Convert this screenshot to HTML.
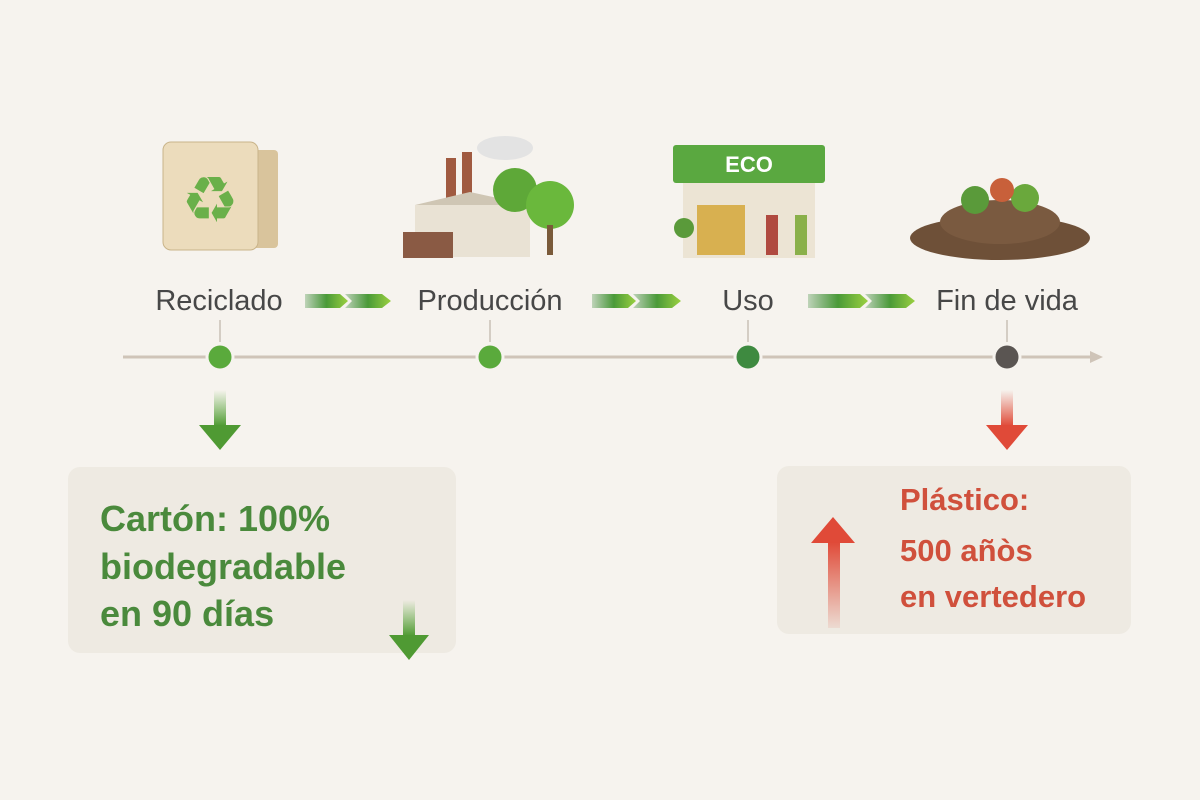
<!DOCTYPE html>
<html><head><meta charset="utf-8"><style>
html,body{margin:0;padding:0;background:#f6f3ee;}
svg{display:block}
text{font-family:"Liberation Sans",sans-serif}
</style></head><body>
<svg width="1200" height="800" viewBox="0 0 1200 800" xmlns="http://www.w3.org/2000/svg">
<defs>
<linearGradient id="gd" x1="0" y1="0" x2="0" y2="1"><stop offset="0" stop-color="#5aa83a" stop-opacity="0"/><stop offset="1" stop-color="#4f9a33"/></linearGradient>
<linearGradient id="rd" x1="0" y1="0" x2="0" y2="1"><stop offset="0" stop-color="#e0503c" stop-opacity="0"/><stop offset="1" stop-color="#e04a38"/></linearGradient>
<linearGradient id="ru" x1="0" y1="1" x2="0" y2="0"><stop offset="0" stop-color="#e0503c" stop-opacity="0.1"/><stop offset="1" stop-color="#e04a38"/></linearGradient>
<linearGradient id="ch" x1="0" y1="0" x2="1" y2="0"><stop offset="0" stop-color="#3e8a3a" stop-opacity="0.3"/><stop offset="0.5" stop-color="#4a9a38"/><stop offset="1" stop-color="#9ad040"/></linearGradient>
</defs>
<rect width="1200" height="800" fill="#f6f3ee"/>

<g>
<rect x="250" y="150" width="28" height="98" rx="4" fill="#d9c49c"/>
<rect x="163" y="142" width="95" height="108" rx="8" fill="#ecdcbc" stroke="#c9b48a"/>
<text x="210" y="222" font-size="64" fill="#6ab04a" text-anchor="middle">♻</text>
</g>
<g>
<rect x="446" y="158" width="10" height="50" fill="#a05a40"/><rect x="462" y="152" width="10" height="56" fill="#a05a40"/>
<ellipse cx="505" cy="148" rx="28" ry="12" fill="#e3e3e3"/>
<rect x="415" y="205" width="115" height="52" fill="#e9e2d4"/><polygon points="415,205 470,192 530,205" fill="#cfc6b4"/>
<rect x="403" y="232" width="50" height="26" fill="#8a5a44"/>
<circle cx="515" cy="190" r="22" fill="#5ea838"/><circle cx="550" cy="205" r="24" fill="#6ab83c"/><rect x="547" y="225" width="6" height="30" fill="#7a5a3a"/>
</g>
<g>
<rect x="673" y="145" width="152" height="38" rx="3" fill="#5aa840"/>
<text x="749" y="172" font-size="22" font-weight="bold" fill="#fff" text-anchor="middle">ECO</text>
<rect x="683" y="183" width="132" height="75" fill="#ece4d4"/>
<rect x="697" y="205" width="48" height="50" fill="#d8b050"/>
<circle cx="684" cy="228" r="10" fill="#5a9a3a"/>
<rect x="766" y="215" width="12" height="40" fill="#b04a40"/><rect x="795" y="215" width="12" height="40" fill="#8ab04a"/>
</g>
<g>
<ellipse cx="1000" cy="238" rx="90" ry="22" fill="#6e5038"/>
<ellipse cx="1000" cy="222" rx="60" ry="22" fill="#7a5a40"/>
<circle cx="975" cy="200" r="14" fill="#5a9a3a"/><circle cx="1025" cy="198" r="14" fill="#6aa83c"/><circle cx="1002" cy="190" r="12" fill="#c8603a"/>
</g>

<g font-size="29" fill="#474747" text-anchor="middle">
<text x="219" y="310">Reciclado</text>
<text x="490" y="310">Producción</text>
<text x="748" y="310">Uso</text>
<text x="1007" y="310">Fin de vida</text>
</g>
<g fill="url(#ch)">
<polygon points="305,294 340,294 348,301 340,308 305,308"/><polygon points="345,294 382,294 391,301 382,308 345,308 352,301"/>
<polygon points="592,294 628,294 636,301 628,308 592,308"/><polygon points="633,294 672,294 681,301 672,308 633,308 640,301"/>
<polygon points="808,294 860,294 868,301 860,308 808,308"/><polygon points="865,294 906,294 915,301 906,308 865,308 872,301"/>
</g>
<line x1="123" y1="357" x2="1092" y2="357" stroke="#cfc4b8" stroke-width="3"/>
<polygon points="1090,351 1103,357 1090,363" fill="#cfc4b8"/>
<g stroke="#c8c0b6" stroke-width="1.5">
<line x1="220" y1="320" x2="220" y2="342"/><line x1="490" y1="320" x2="490" y2="342"/><line x1="748" y1="320" x2="748" y2="342"/><line x1="1007" y1="320" x2="1007" y2="342"/>
</g>
<circle cx="220" cy="357" r="13" fill="#5aaa3c" stroke="#f6f3ee" stroke-width="3"/>
<circle cx="490" cy="357" r="13" fill="#5aaa3c" stroke="#f6f3ee" stroke-width="3"/>
<circle cx="748" cy="357" r="13" fill="#3e8a40" stroke="#f6f3ee" stroke-width="3"/>
<circle cx="1007" cy="357" r="13" fill="#5a5552" stroke="#f6f3ee" stroke-width="3"/>

<rect x="214" y="390" width="12" height="36" fill="url(#gd)"/><polygon points="199,425 241,425 220,450" fill="#4f9a33"/>
<rect x="1001" y="390" width="12" height="36" fill="url(#rd)"/><polygon points="986,425 1028,425 1007,450" fill="#e04a38"/>

<rect x="68" y="467" width="388" height="186" rx="12" fill="#eeeae2"/>
<g font-size="36" font-weight="bold" fill="#4a8a3c">
<text x="100" y="531">Cartón: 100%</text>
<text x="100" y="579">biodegradable</text>
<text x="100" y="626">en 90 días</text>
</g>
<rect x="403" y="600" width="12" height="36" fill="url(#gd)"/><polygon points="389,635 429,635 409,660" fill="#4f9a33"/>

<rect x="777" y="466" width="354" height="168" rx="12" fill="#eeeae2"/>
<g font-size="31" font-weight="bold" fill="#d0503c">
<text x="900" y="510">Plástico:</text>
<text x="900" y="561">500 añòs</text>
<text x="900" y="607">en vertedero</text>
</g>
<rect x="828" y="542" width="12" height="86" fill="url(#ru)"/><polygon points="811,543 855,543 833,517" fill="#e04a38"/>
</svg>
</body></html>
